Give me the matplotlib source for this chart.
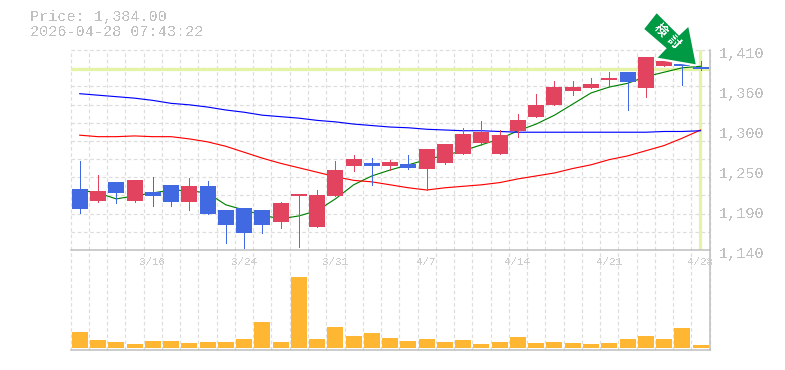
import matplotlib
matplotlib.use("Agg")
import matplotlib.pyplot as plt
from matplotlib.patches import Polygon
from matplotlib.transforms import ScaledTranslation
import numpy as np

plt.rcParams['font.family'] = ['Liberation Mono', 'DejaVu Sans Mono']
plt.rcParams['text.antialiased'] = False

tick_idx = [4, 9, 14, 19, 24, 29, 34]
tick_lab = ['3/16', '3/24', '3/31', '4/7', '4/14', '4/21', '4/28']
y_ticks = [1410, 1356, 1302, 1248, 1194, 1140]
y_labs = ['1,410', '1,360', '1,300', '1,250', '1,190', '1,140']

opens = [1222,1206,1232,1206,1218,1228,1205,1226,1194,1197,1194,1178,1213,1171,1213,1253,1257,1253,1256,1249,
         1257,1270,1284,1270,1301,1320,1336,1355,1359,1369,1380,1359,1388,1391,1387]
closes = [1196,1220,1217,1234,1213,1205,1226,1189,1174,1163,1174,1203,1216,1214,1248,1263,1253,1259,1251,1276,
          1283,1297,1299,1295,1315,1336,1360,1360,1364,1372,1367,1401,1395,1388,1384]
highs = [1260,1241,1232,1234,1239,1228,1237,1233,1194,1197,1194,1205,1216,1221,1260,1268,1264,1262,1268,1276,
         1283,1305,1314,1302,1324,1351,1368,1368,1372,1380,1380,1401,1395,1391,1395]
lows = [1190,1205,1203,1205,1199,1199,1194,1189,1149,1143,1163,1170,1144,1171,1213,1247,1228,1248,1249,1221,
        1256,1270,1282,1270,1293,1320,1336,1349,1359,1360,1329,1347,1388,1363,1383]
ma_short = [1221,1217,1209,1213,1217,1221,1220,1217,1201,1194,1187,1182,1186,1193,1209,1228,1240,1248,1255,1262,
            1268,1274,1282,1290,1301,1310,1322,1337,1352,1360,1365,1374,1380,1386,1388]
ma_mid = [1295,1293,1293,1294,1293,1293,1290,1286,1280,1272,1264,1257,1251,1245,1239,1234,1232,1228,1224,1221,
          1224,1226,1228,1231,1236,1240,1244,1250,1255,1262,1267,1274,1281,1291,1302]
ma_long = [1351,1349,1347,1345,1342,1338,1336,1333,1329,1326,1322,1320,1318,1315,1313,1310,1308,1306,1305,1303,
           1302,1301,1301,1300,1299,1299,1299,1299,1299,1299,1299,1299,1300,1300,1301]
volumes = [160,80,60,40,70,70,50,60,60,90,260,60,710,90,210,120,150,100,70,90,60,80,40,60,110,50,60,50,40,50,90,
           120,90,200,30]
price_now = 1384

RED, BLUE = '#E2435F', '#4169E1'
GRID, AXIS, TXT = '#DDDDDD', '#BDBDBD', '#C0C0C0'
W, H = 785, 370
X0, X1 = 70.6, 709.7

fig = plt.figure(figsize=(W / 100, H / 100), dpi=100, facecolor='white')
ax = fig.add_axes([X0 / W, (H - 250) / H, (X1 - X0) / W, 200 / H], zorder=3)
axv = fig.add_axes([X0 / W, (H - 350) / H, (X1 - X0) / W, 100 / H], zorder=2)
ax.patch.set_visible(False)
n = len(opens)
xs = np.arange(n)
px = 72 / 100

for a in (ax, axv):
    a.set_xlim(-0.5, n - 0.5)
    for s in ('top', 'left'):
        a.spines[s].set_visible(False)
    for s in ('right', 'bottom'):
        a.spines[s].set_color(AXIS)
        a.spines[s].set_linewidth(1.5 * px)
    for e in np.arange(n + 1) - 0.5:
        a.axvline(e, color=GRID, lw=1.2 * px, ls=(0, (3, 2.2)), zorder=0.5, clip_on=False)

ax.set_ylim(1140, 1410)
for v in np.linspace(1140, 1410, 12)[1:]:
    ax.axhline(v, color=GRID, lw=1.2 * px, ls=(0, (3, 2.2)), zorder=0.5, clip_on=False)

ax.axhline(price_now, color='#E4F4A6', lw=3.2 * px, zorder=1)
ax.axvline(n - 1 - 0.03, color='#E4F4A6', lw=3.2 * px, zorder=1)

ax.plot(xs, ma_short, color='#008000', lw=1.15 * px, zorder=2)
ax.plot(xs, ma_mid, color='#FF0000', lw=1.15 * px, zorder=2)
ax.plot(xs, ma_long, color='#0000FF', lw=1.15 * px, zorder=2)

for i in range(n):
    c = RED if closes[i] >= opens[i] else BLUE
    ax.vlines(i, lows[i], highs[i], color=c, lw=0.75 * px, zorder=3, antialiased=False)
    ax.bar(i, abs(closes[i] - opens[i]), bottom=min(opens[i], closes[i]), width=0.876, color=c, zorder=4, linewidth=0)

axv.bar(xs, volumes, width=0.876, color='#FFB733', linewidth=0, zorder=3)
axv.set_ylim(-20, 980)
axv.set_xticks([])
axv.set_yticks([])

ax.set_xticks(tick_idx)
ax.set_xticklabels(tick_lab, fontsize=7.8, color='#CCCCCC')
ax.tick_params(axis='x', length=0, pad=5.0)
ax.yaxis.tick_right()
ax.set_yticks(y_ticks)
ax.set_yticklabels(y_labs, fontsize=11, color=TXT)
ax.tick_params(axis='y', length=0, pad=7)
shift = ScaledTranslation(0, -3 / 100, fig.dpi_scale_trans)
for lab in ax.get_yticklabels():
    lab.set_transform(lab.get_transform() + shift)

# pixel overlay for the header and the signal arrow
ov = fig.add_axes([0, 0, 1, 1], zorder=5)
ov.set_xlim(0, W)
ov.set_ylim(H, 0)
ov.axis('off')
ov.text(30, 17.5, 'Price: 1,384.00', fontsize=10.9, color=TXT, va='center', ha='left')
ov.text(30, 32.5, '2026-04-28 07:43:22', fontsize=10.9, color=TXT, va='center', ha='left')
shape = [(644.3, 29), (656.7, 13.3), (679, 35.7), (688.3, 27), (695.7, 64.3), (657.7, 57.7), (666.7, 48.3)]
ov.add_patch(Polygon([(x, y + 1.5) for x, y in shape], closed=True, fc='white', ec='white', lw=1, zorder=1))
ov.add_patch(Polygon(shape, closed=True, fc='#009944', ec='none', zorder=2))
for ch, (x, y) in zip('検討', [(660, 30), (673, 42)]):
    ov.text(x, y, ch, family=['Noto Sans CJK JP', 'DejaVu Sans'], fontsize=9, fontweight='bold', color='white',
            rotation=-45, rotation_mode='anchor', ha='center', va='center', zorder=3)

fig.savefig('out.png', dpi=100, facecolor='white')
